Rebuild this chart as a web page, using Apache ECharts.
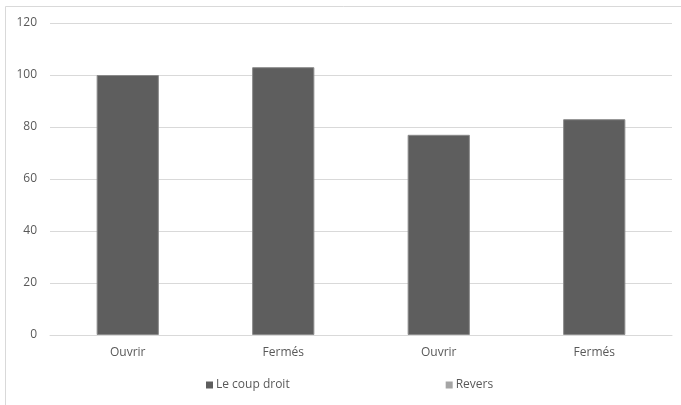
<!DOCTYPE html>
<html>
<head>
<meta charset="utf-8">
<script src="https://cdn.jsdelivr.net/npm/echarts@6/dist/echarts.min.js"></script>
<style>
  html, body { margin: 0; padding: 0; background: #ffffff; }
  #chart { width: 681px; height: 405px; }
</style>
</head>
<body>
<div id="chart"></div>
<script>
// Categories along the horizontal axis
const categories = ['Ouvrir', 'Fermés', 'Ouvrir', 'Fermés'];
// Series values
const coupDroit = [100, 103, 77, 83];
const revers = [null, null, null, null];
// Value axis ticks
const yTicks = [0, 20, 40, 60, 80, 100, 120];

const textColor = '#595959';
const gridColor = '#d9d9d9';
const font = 'Open Sans';

const chart = echarts.init(document.getElementById('chart'), null, { renderer: 'canvas' });

chart.setOption({
  animation: false,
  backgroundColor: '#ffffff',
  graphic: [{
    type: 'rect',
    shape: { x: 5.5, y: 6.5, width: 720, height: 440 },
    style: { fill: 'none', stroke: '#d9d9d9', lineWidth: 1 },
    silent: true,
    z: -1
  }],
  grid: { left: 50, right: 9, top: 23, bottom: 70, containLabel: false },
  legend: {
    left: 201,
    top: 374,
    itemWidth: 7,
    itemHeight: 7,
    itemGap: 156,
    icon: 'rect',
    itemStyle: { borderWidth: 0 },
    textStyle: { color: textColor, fontFamily: font, fontSize: 12, padding: [0, 0, 0, -2] },
    data: ['Le coup droit', 'Revers']
  },
  xAxis: {
    type: 'category',
    data: categories,
    axisLine: { show: true, lineStyle: { color: gridColor, width: 1 } },
    axisTick: { show: false },
    axisLabel: { color: textColor, fontFamily: font, fontSize: 12, margin: 12 }
  },
  yAxis: {
    type: 'value',
    min: yTicks[0],
    max: yTicks[yTicks.length - 1],
    interval: yTicks[1] - yTicks[0],
    axisLine: { show: false },
    axisTick: { show: false },
    splitLine: { lineStyle: { color: gridColor, width: 1 } },
    axisLabel: { color: textColor, fontFamily: font, fontSize: 12, margin: 13 }
  },
  series: [
    {
      name: 'Le coup droit',
      type: 'bar',
      data: coupDroit,
      barWidth: '40%',
      barGap: '-100%',
      itemStyle: { color: '#5e5e5e', borderColor: '#8a8a8a', borderWidth: 1 }
    },
    {
      name: 'Revers',
      type: 'bar',
      data: revers,
      barWidth: '40%',
      itemStyle: { color: '#a5a5a5' }
    }
  ]
});
</script>
</body>
</html>
